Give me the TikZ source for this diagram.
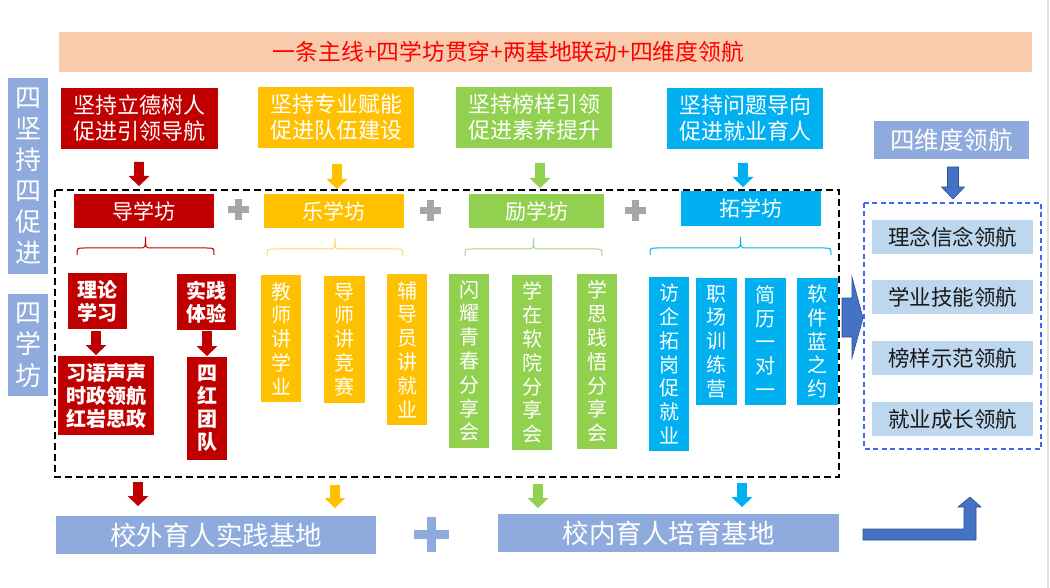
\documentclass[tikz,border=0pt]{standalone}
\usepackage{fontspec}
\setmainfont{Noto Sans CJK SC}
\definecolor{cred}{HTML}{C00000}
\definecolor{cyel}{HTML}{FFC000}
\definecolor{cgrn}{HTML}{92D050}
\definecolor{cblu}{HTML}{00B0F0}
\definecolor{csteel}{HTML}{8FAADC}
\definecolor{cpeach}{HTML}{F8CBAD}
\definecolor{cgray}{HTML}{A6A6A6}
\definecolor{clight}{HTML}{BDD7EE}
\definecolor{carrow}{HTML}{4472C4}
\definecolor{carrowd}{HTML}{2F528F}
\definecolor{cdash}{HTML}{3D6BF0}
\definecolor{cbyel}{HTML}{FFD966}
\definecolor{cbgrn}{HTML}{A9D18E}
\newcommand\blockdown[4]{%
  \fill[#4] (#1-4.8,#2) -- (#1+4.8,#2) -- (#1+4.8,#3-10) -- (#1+10.5,#3-10) -- (#1,#3) -- (#1-10.5,#3-10) -- (#1-4.8,#3-10) -- cycle;}
\newcommand\plusmark[5]{% x y size thickness colour
  \fill[#5] (#1-#3/2,#2-#4/2) rectangle (#1+#3/2,#2+#4/2);
  \fill[#5] (#1-#4/2,#2-#3/2) rectangle (#1+#4/2,#2+#3/2);}
\newcommand\topbrace[4]{% x1 x2 y colour
  \draw[#4, line width=1pt] (#1,#3+18) .. controls (#1,#3+11) .. (#1+7,#3+11) -- ({(#1+#2)/2-6},#3+11) .. controls ({(#1+#2)/2},#3+11) .. ({(#1+#2)/2},#3) .. controls ({(#1+#2)/2},#3+11) .. ({(#1+#2)/2+6},#3+11) -- (#2-7,#3+11) .. controls (#2,#3+11) .. (#2,#3+18);}
\begin{document}
\begin{tikzpicture}[x=1pt,y=-1pt,
  bx/.style={inner sep=0pt, align=center, text=white},
  ftop/.style={font=\fontsize{22}{26}\selectfont},
  ffang/.style={font=\fontsize{21}{24}\selectfont},
  fsub/.style={font=\bfseries\fontsize{20}{23}\selectfont},
  fvert/.style={font=\fontsize{20}{23.8}\selectfont},
  fbig/.style={font=\fontsize{26.5}{30}\selectfont},
  fitem/.style={font=\fontsize{21.5}{24}\selectfont}]
\useasboundingbox (0,0) rectangle (1050,588);
\fill[gray!25] (1046.5,0) rectangle (1049,588);
% title
\node[inner sep=0pt, fill=cpeach, minimum width=973pt, minimum height=40pt] (title) at (545.5,52) {};
\node[inner sep=0pt, text=red, font=\fontsize{22.8}{26}\selectfont] (titletext) at (508.5,52) {一条主线+四学坊贯穿+两基地联动+四维度领航};
% left column
\node[bx, fill=csteel, minimum width=40pt, minimum height=196pt, font=\fontsize{26}{31}\selectfont] (sj) at (28,176) {四\\坚\\持\\四\\促\\进};
\node[bx, fill=csteel, minimum width=40pt, minimum height=102pt, font=\fontsize{26}{31.5}\selectfont] (sx) at (28,345) {四\\学\\坊};
% top row
\node[bx, ftop, fill=cred, minimum width=157pt, minimum height=61pt] (p1) at (139.5,118.5) {坚持立德树人\\促进引领导航};
\node[bx, ftop, fill=cyel, minimum width=156pt, minimum height=61pt] (p2) at (336,117.5) {坚持专业赋能\\促进队伍建设};
\node[bx, ftop, fill=cgrn, minimum width=156pt, minimum height=61pt] (p3) at (534,117.5) {坚持榜样引领\\促进素养提升};
\node[bx, ftop, fill=cblu, minimum width=156pt, minimum height=61pt] (p4) at (745,118.5) {坚持问题导向\\促进就业育人};
\blockdown{139}{162}{186}{cred}
\blockdown{337}{164}{189}{cyel}
\blockdown{540}{163}{188}{cgrn}
\blockdown{743}{163}{187}{cblu}
% dashed frame
\draw[line width=2pt, dash pattern=on 7pt off 4pt] (55,190) rectangle (839,477);
% fang boxes
\node[bx, ffang, fill=cred, minimum width=140pt, minimum height=34pt] (f1) at (144,211) {导学坊};
\node[bx, ffang, fill=cyel, minimum width=140pt, minimum height=34pt] (f2) at (334,211) {乐学坊};
\node[bx, ffang, fill=cgrn, minimum width=135pt, minimum height=34pt] (f3) at (536.5,211) {励学坊};
\node[bx, ffang, fill=cblu, minimum width=140pt, minimum height=35pt] (f4) at (751,208.5) {拓学坊};
\plusmark{238.5}{210}{21}{7}{cgray}
\plusmark{430}{211}{21}{7}{cgray}
\plusmark{635}{211}{21}{7}{cgray}
% braces
\topbrace{77}{214}{237}{cred}
\topbrace{267}{403}{238}{cbyel}
\topbrace{465}{602}{238}{cbgrn}
\topbrace{650}{831}{237}{cblu}
% red sub boxes
\node[bx, fsub, fill=cred, minimum width=59pt, minimum height=56pt] (r1) at (97.5,301) {理论\\学习};
\node[bx, fsub, fill=cred, minimum width=59pt, minimum height=56pt] (r2) at (206.5,302) {实践\\体验};
\blockdown{96}{331}{355}{cred}
\blockdown{207}{331}{356}{cred}
\node[bx, fsub, fill=cred, minimum width=96pt, minimum height=79pt] (r3) at (106,395.5) {习语声声\\时政领航\\红岩思政};
\node[bx, fsub, fill=cred, minimum width=40pt, minimum height=103pt] (r4) at (207,408.5) {四\\红\\团\\队};
% yellow
\node[bx, fvert, fill=cyel, minimum width=40pt, minimum height=127pt] (y1) at (281,338.5) {教\\师\\讲\\学\\业};
\node[bx, fvert, fill=cyel, minimum width=41pt, minimum height=127pt] (y2) at (344.5,339.5) {导\\师\\讲\\竞\\赛};
\node[bx, fvert, fill=cyel, minimum width=40pt, minimum height=151pt] (y3) at (407,349.5) {辅\\导\\员\\讲\\就\\业};
% green
\node[bx, fvert, fill=cgrn, minimum width=40pt, minimum height=174pt] (g1) at (469,361) {闪\\耀\\青\\春\\分\\享\\会};
\node[bx, fvert, fill=cgrn, minimum width=40pt, minimum height=175pt] (g2) at (532,362.5) {学\\在\\软\\院\\分\\享\\会};
\node[bx, fvert, fill=cgrn, minimum width=40pt, minimum height=175pt] (g3) at (597,361.5) {学\\思\\践\\悟\\分\\享\\会};
% blue
\node[bx, fvert, fill=cblu, minimum width=40pt, minimum height=174pt] (b1) at (669,364) {访\\企\\拓\\岗\\促\\就\\业};
\node[bx, fvert, fill=cblu, minimum width=41pt, minimum height=127pt] (b2) at (716.5,341.5) {职\\场\\训\\练\\营};
\node[bx, fvert, fill=cblu, minimum width=41pt, minimum height=127pt] (b3) at (765.5,341.5) {简\\历\\一\\对\\一};
\node[bx, fvert, fill=cblu, minimum width=41pt, minimum height=127pt] (b4) at (817.5,341.5) {软\\件\\蓝\\之\\约};
% bottom arrows
\blockdown{138}{482}{506}{cred}
\blockdown{335}{485}{508}{cyel}
\blockdown{538}{484}{508}{cgrn}
\blockdown{742}{483}{507}{cblu}
% bottom bases
\node[bx, fbig, fill=csteel, minimum width=320pt, minimum height=38pt] (base1) at (216,535) {校外育人实践基地};
\node[bx, fbig, fill=csteel, minimum width=341pt, minimum height=38pt] (base2) at (668.5,533) {校内育人培育基地};
\plusmark{431.5}{534.5}{35}{9}{csteel}
% right panel
\node[bx, fill=csteel, minimum width=155pt, minimum height=38pt, font=\fontsize{24.5}{30}\selectfont] (wd) at (951.5,140) {四维度领航};
\filldraw[fill=carrow, draw=carrowd, line width=0.6pt] (947.5,167) -- (958.5,167) -- (958.5,187) -- (964.5,187) -- (953,199) -- (941.5,187) -- (947.5,187) -- cycle;
\draw[cdash, line width=1.6pt, dash pattern=on 5pt off 3.5pt] (864,203) rectangle (1041,449);
\node[inner sep=0pt, fitem, fill=clight, text=black!90, minimum width=161pt, minimum height=34pt] (w1) at (952.5,237) {理念信念领航};
\node[inner sep=0pt, fitem, fill=clight, text=black!90, minimum width=161pt, minimum height=34pt] (w2) at (952.5,297) {学业技能领航};
\node[inner sep=0pt, fitem, fill=clight, text=black!90, minimum width=161pt, minimum height=34pt] (w3) at (952.5,358) {榜样示范领航};
\node[inner sep=0pt, fitem, fill=clight, text=black!90, minimum width=161pt, minimum height=34pt] (w4) at (952.5,419) {就业成长领航};
% big right arrow
\filldraw[fill=carrow, draw=carrowd, line width=0.6pt] (842,298) -- (852,298) -- (852,277) -- (863,318) -- (852,358) -- (852,337) -- (842,337) -- cycle;
% bent arrow
\filldraw[fill=carrow, draw=carrowd, line width=0.6pt] (863,529) -- (964,529) -- (964,507) -- (958,507) -- (970,497) -- (981,507) -- (976,507) -- (976,540) -- (863,540) -- cycle;
\end{tikzpicture}
\end{document}
